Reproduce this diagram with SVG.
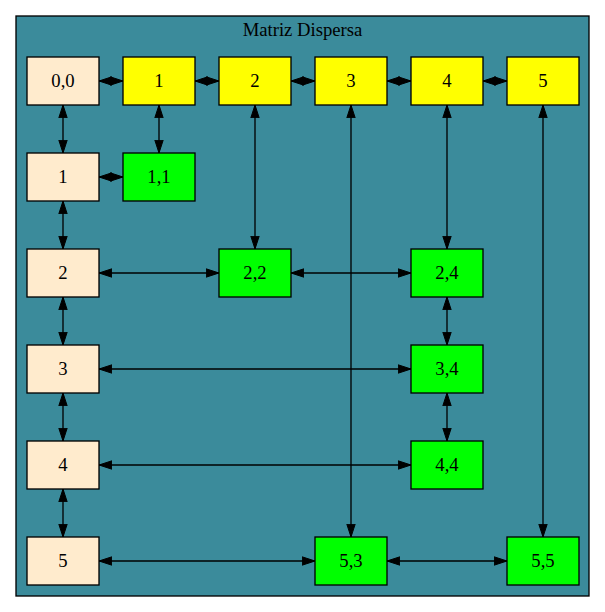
<svg xmlns="http://www.w3.org/2000/svg" width="605" height="612" viewBox="0 0 605 612">
<style>
text{font-family:"Liberation Serif","Times New Roman",serif;font-size:18.67px;text-anchor:middle;fill:#000}
.n rect{stroke:#000;stroke-width:1.33}
.h rect{fill:#ffebcd}
.c rect{fill:#ffff00}
.v rect{fill:#00ff00}
#edges line{stroke:#000;stroke-width:1.33;marker-start:url(#ah);marker-end:url(#ah)}
</style>
<defs>
<marker id="ah" markerUnits="userSpaceOnUse" markerWidth="13.4" markerHeight="9.4" refX="13.3" refY="4.67" orient="auto-start-reverse" viewBox="0 0 13.4 9.4">
<path d="M0.5,0.5 L13.3,4.67 L0.5,8.84 z" fill="#000" stroke="#000" stroke-width="1"/>
</marker>
</defs>
<rect x="0" y="0" width="605" height="612" fill="#fff"/>
<g id="cluster">
<rect x="16" y="16" width="573" height="580" fill="#3b8b9b" stroke="#000" stroke-width="1.33"/>
<text x="302.5" y="36">Matriz Dispersa</text>
</g>
<g id="edges">
<line x1="99" y1="81" x2="123" y2="81"/>
<line x1="195" y1="81" x2="219" y2="81"/>
<line x1="291" y1="81" x2="315" y2="81"/>
<line x1="387" y1="81" x2="411" y2="81"/>
<line x1="483" y1="81" x2="507" y2="81"/>
<line x1="63" y1="105" x2="63" y2="153"/>
<line x1="63" y1="201" x2="63" y2="249"/>
<line x1="63" y1="297" x2="63" y2="345"/>
<line x1="63" y1="393" x2="63" y2="441"/>
<line x1="63" y1="489" x2="63" y2="537"/>
<line x1="159" y1="105" x2="159" y2="153"/>
<line x1="99" y1="177" x2="123" y2="177"/>
<line x1="255" y1="105" x2="255" y2="249"/>
<line x1="99" y1="273" x2="219" y2="273"/>
<line x1="291" y1="273" x2="411" y2="273"/>
<line x1="351" y1="105" x2="351" y2="537"/>
<line x1="447" y1="105" x2="447" y2="249"/>
<line x1="447" y1="297" x2="447" y2="345"/>
<line x1="447" y1="393" x2="447" y2="441"/>
<line x1="99" y1="369" x2="411" y2="369"/>
<line x1="99" y1="465" x2="411" y2="465"/>
<line x1="99" y1="561" x2="315" y2="561"/>
<line x1="387" y1="561" x2="507" y2="561"/>
<line x1="543" y1="105" x2="543" y2="537"/>
</g>
<g id="n00" class="n h"><rect x="27" y="57" width="72" height="48"/><text x="63" y="87">0,0</text></g>
<g id="c1" class="n c"><rect x="123" y="57" width="72" height="48"/><text x="159" y="87">1</text></g>
<g id="c2" class="n c"><rect x="219" y="57" width="72" height="48"/><text x="255" y="87">2</text></g>
<g id="c3" class="n c"><rect x="315" y="57" width="72" height="48"/><text x="351" y="87">3</text></g>
<g id="c4" class="n c"><rect x="411" y="57" width="72" height="48"/><text x="447" y="87">4</text></g>
<g id="c5" class="n c"><rect x="507" y="57" width="72" height="48"/><text x="543" y="87">5</text></g>
<g id="r1" class="n h"><rect x="27" y="153" width="72" height="48"/><text x="63" y="183">1</text></g>
<g id="r2" class="n h"><rect x="27" y="249" width="72" height="48"/><text x="63" y="279">2</text></g>
<g id="r3" class="n h"><rect x="27" y="345" width="72" height="48"/><text x="63" y="375">3</text></g>
<g id="r4" class="n h"><rect x="27" y="441" width="72" height="48"/><text x="63" y="471">4</text></g>
<g id="r5" class="n h"><rect x="27" y="537" width="72" height="48"/><text x="63" y="567">5</text></g>
<g id="v11" class="n v"><rect x="123" y="153" width="72" height="48"/><text x="159" y="183">1,1</text></g>
<g id="v22" class="n v"><rect x="219" y="249" width="72" height="48"/><text x="255" y="279">2,2</text></g>
<g id="v24" class="n v"><rect x="411" y="249" width="72" height="48"/><text x="447" y="279">2,4</text></g>
<g id="v34" class="n v"><rect x="411" y="345" width="72" height="48"/><text x="447" y="375">3,4</text></g>
<g id="v44" class="n v"><rect x="411" y="441" width="72" height="48"/><text x="447" y="471">4,4</text></g>
<g id="v53" class="n v"><rect x="315" y="537" width="72" height="48"/><text x="351" y="567">5,3</text></g>
<g id="v55" class="n v"><rect x="507" y="537" width="72" height="48"/><text x="543" y="567">5,5</text></g>
</svg>
